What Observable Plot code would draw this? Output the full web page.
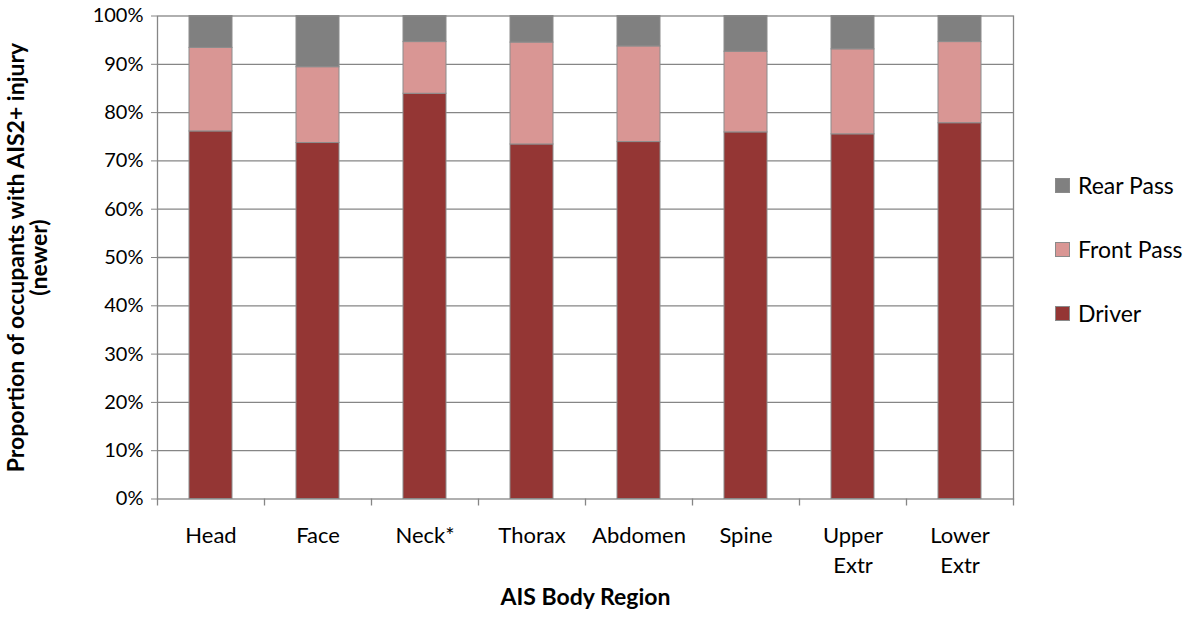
<!DOCTYPE html>
<html>
<head>
<meta charset="utf-8">
<script src="https://cdn.jsdelivr.net/npm/d3@7"></script>
<script src="https://cdn.jsdelivr.net/npm/@observablehq/plot@0.6"></script>
<style>
  html, body { margin: 0; padding: 0; background: #fff; }
  #wrap { position: relative; width: 1196px; height: 624px; font-family: Lato, "Open Sans", sans-serif; }
  #legend { position: absolute; left: 1055px; top: 153px; font-size: 23px; color: #000; }
  #legend .row { display: flex; align-items: center; height: 64px; margin: 0; }
  #legend .sw { width: 13px; height: 13px; border: 1px solid #8a8a8a; margin-right: 8px; }
</style>
</head>
<body>
<div id="wrap"></div>
<script>
const categories = ["Head", "Face", "Neck*", "Thorax", "Abdomen", "Spine", "Upper Extr", "Lower Extr"];
const series = ["Driver", "Front Pass", "Rear Pass"];
const driver    = [76.1, 73.7, 83.9, 73.4, 73.9, 75.9, 75.5, 77.8];
const frontPass = [17.3, 15.7, 10.7, 21.1, 19.8, 16.7, 17.6, 16.8];
const rearPass  = [ 6.6, 10.6,  5.4,  5.5,  6.3,  7.4,  6.9,  5.4];
const colors = ["#943634", "#D99694", "#808080"];
const yTicks = [0, 10, 20, 30, 40, 50, 60, 70, 80, 90, 100];

const values = [driver, frontPass, rearPass];
const data = [];
series.forEach((s, si) => categories.forEach((c, ci) => data.push({category: c, series: s, value: values[si][ci]})));

const W = 1196, H = 624, mL = 157, mR = 183, mT = 15.5, mB = 125.5;
const step = (W - mL - mR) / categories.length;
const plotH = H - mT - mB;
const font = "Lato, 'Open Sans', sans-serif";

const chart = Plot.plot({
  width: W, height: H,
  marginLeft: mL, marginRight: mR, marginTop: mT, marginBottom: mB,
  style: {fontFamily: font, fontSize: "20px", color: "#000", background: "#fff"},
  x: {domain: categories, paddingInner: 0.6, paddingOuter: 0.3},
  y: {domain: [0, 100]},
  color: {domain: series, range: colors},
  marks: [
    Plot.gridY(yTicks.filter(d => d > 0 && d < 100), {stroke: "#868686", strokeOpacity: 1, strokeWidth: 1.3}),
    Plot.barY(data, Plot.stackY({order: series}, {x: "category", y: "value", fill: "series", stroke: "#8c8c8c", strokeWidth: 1})),
    Plot.frame({stroke: "#868686", strokeWidth: 1.3}),
    Plot.axisY(yTicks, {tickFormat: d => d + "%", tickSize: 6, tickPadding: 8, stroke: "#868686", fontSize: 20, label: null}),
    Plot.axisX({tickSize: 0, tickPadding: 22, fontSize: 22, lineHeight: 1.38, tickFormat: d => d.replace(" ", "\n"), label: null}),
    Plot.ruleX(categories, {x: d => d, dx: -step / 2, insetTop: plotH - 7, dy: 7, stroke: "#868686", strokeWidth: 1.3}),
    Plot.ruleX([categories[categories.length - 1]], {x: d => d, dx: step / 2, insetTop: plotH - 7, dy: 7, stroke: "#868686", strokeWidth: 1.3}),
    Plot.text(["Proportion of occupants with AIS2+ injury\n(newer)"], {frameAnchor: "left", dx: -129, rotate: -90, text: d => d, fontWeight: "bold", fontSize: 23, lineHeight: 1.0, textAnchor: "middle", fill: "#000"}),
    Plot.text(["AIS Body Region"], {frameAnchor: "bottom", dy: 106, text: d => d, fontWeight: "bold", fontSize: 23, textAnchor: "middle", fill: "#000"})
  ]
});

const wrap = document.getElementById("wrap");
wrap.appendChild(chart);
const legend = document.createElement("div");
legend.id = "legend";
[...series].reverse().forEach((s) => {
  const row = document.createElement("div");
  row.className = "row";
  const sw = document.createElement("div");
  sw.className = "sw";
  sw.style.background = colors[series.indexOf(s)];
  const t = document.createElement("span");
  t.textContent = s;
  row.appendChild(sw); row.appendChild(t);
  legend.appendChild(row);
});
wrap.appendChild(legend);
</script>
</body>
</html>
